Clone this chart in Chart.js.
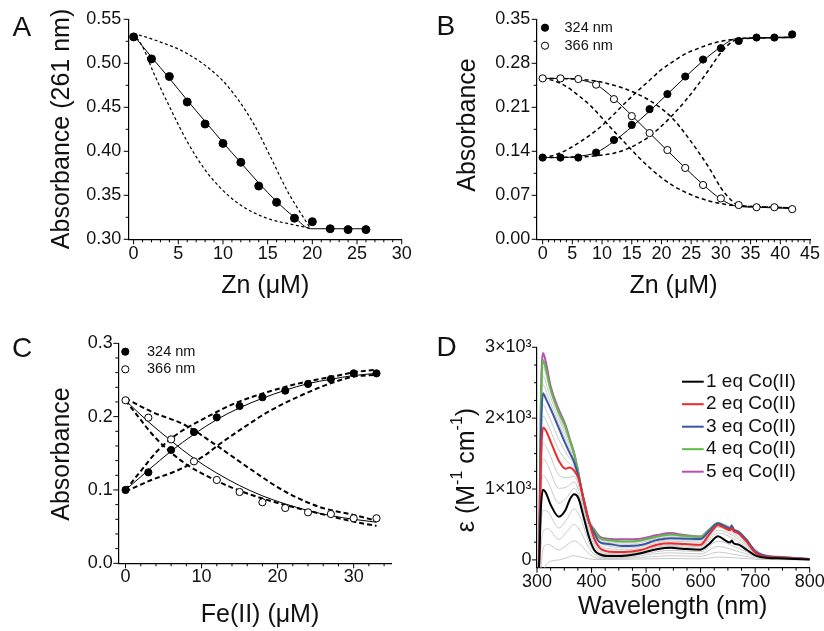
<!DOCTYPE html>
<html><head><meta charset="utf-8">
<script src="https://cdn.jsdelivr.net/npm/chart.js@4.4.0/dist/chart.umd.min.js"></script>
<style>
html,body{margin:0;padding:0;background:#fff;}
#wrap{position:relative;width:824px;height:631px;overflow:hidden;background:#fff;}
canvas{position:absolute;}
</style></head><body>
<div id="wrap">
<canvas id="cA" width="412" height="315" style="left:0;top:0"></canvas>
<canvas id="cB" width="412" height="315" style="left:412px;top:0"></canvas>
<canvas id="cC" width="412" height="316" style="left:0;top:315px"></canvas>
<canvas id="cD" width="412" height="316" style="left:412px;top:315px"></canvas>
</div>
<script>
// ---------- Panel A ----------
const A_X = [0,2,4,6,8,10,12,14,16,18,20,22,24,26];
const A_Y = [0.530,0.505,0.485,0.456,0.431,0.409,0.3875,0.3605,0.342,0.324,0.320,0.312,0.311,0.311];
const A_FIT_X = [0,2,4,6,8,10,12,14,16,18,19.8,22,24,26];
const A_FIT_Y = [0.532,0.507,0.483,0.458,0.434,0.410,0.387,0.364,0.343,0.325,0.312,0.312,0.312,0.312];
const A_UP_X = [0,2.2,6,9.7,11.6,13.5,15.4,17.2,19.8];
const A_UP_Y = [0.534,0.527,0.511,0.483,0.460,0.430,0.392,0.355,0.312];
const A_LO_X = [0,1.1,2.2,4.1,6,7.85,9.7,11.6,13.5,15.3,17.2,19.8];
const A_LO_Y = [0.534,0.517,0.490,0.449,0.411,0.381,0.3585,0.3415,0.330,0.3226,0.318,0.3125];
const A_XTICKS = [0,5,10,15,20,25,30];
const A_XLABELS = ['0','5','10','15','20','25','30'];
const A_YTICKS = [0.30,0.35,0.40,0.45,0.50,0.55];
const A_YLABELS = ['0.30','0.35','0.40','0.45','0.50','0.55'];

// ---------- Panel B ----------
const B_SERIES = ['324 nm','366 nm'];
const B_X = [0,3,6,9,12,15,18,21,24,27,30,33,36,39,42];
const B_324 = [0.130,0.130,0.130,0.138,0.158,0.182,0.207,0.231,0.259,0.286,0.304,0.3155,0.321,0.321,0.326];
const B_366 = [0.256,0.256,0.255,0.2460,0.223,0.196,0.1690,0.142,0.1135,0.0864,0.065,0.0545,0.051,0.051,0.048];
const B_FIT_X = [0,3,6,9,12,15,18,21,24,27,30,32.5,36,39,42];
const B_FIT324 = [0.130,0.130,0.132,0.138,0.156,0.179,0.204,0.231,0.258,0.284,0.306,0.319,0.320,0.321,0.322];
const B_FIT366 = [0.256,0.256,0.254,0.246,0.224,0.197,0.169,0.141,0.1135,0.087,0.064,0.053,0.051,0.050,0.049];
const B_E324_X = [0,2,4,6,8,10,12,14,16,18,20,22,24,26,28,30,32,34,42];
const B_E324_Y = [0.130,0.134,0.142,0.153,0.166,0.181,0.199,0.218,0.236,0.253,0.270,0.283,0.295,0.303,0.310,0.315,0.318,0.320,0.321];
const B_L324_X = [0,4,8,10,12,14,16,18,20,22,24,26,28,30,32,33,36,42];
const B_L324_Y = [0.130,0.1305,0.132,0.134,0.137,0.143,0.152,0.164,0.180,0.199,0.220,0.244,0.270,0.297,0.315,0.318,0.320,0.321];
const B_E366_X = [0,2,4,6,8,10,12,14,16,18,20,22,24,26,28,30,32,36,42];
const B_E366_Y = [0.256,0.252,0.243,0.229,0.213,0.193,0.172,0.152,0.132,0.114,0.098,0.085,0.075,0.067,0.061,0.057,0.054,0.052,0.050];
const B_L366_X = [0,4,8,10,12,14,16,18,20,22,24,26,28,30,32,33,36,42];
const B_L366_Y = [0.256,0.2555,0.253,0.250,0.245,0.239,0.231,0.221,0.208,0.191,0.168,0.142,0.114,0.082,0.060,0.054,0.052,0.050];
const B_XTICKS = [0,5,10,15,20,25,30,35,40,45];
const B_XLABELS = ['0','5','10','15','20','25','30','35','40','45'];
const B_YTICKS = [0,0.07,0.14,0.21,0.28,0.35];
const B_YLABELS = ['0.00','0.07','0.14','0.21','0.28','0.35'];

// ---------- Panel C ----------
const C_SERIES = ['324 nm','366 nm'];
const C_X = [0,3,6,9,12,15,18,21,24,27,30,33];
const C_324 = [0.100,0.124,0.1545,0.179,0.199,0.2145,0.2264,0.2354,0.2445,0.2513,0.2591,0.259];
const C_366 = [0.2223,0.1986,0.169,0.139,0.1136,0.0972,0.0832,0.0754,0.0695,0.0672,0.0614,0.0614];
const C_FIT324 = [0.100,0.127,0.153,0.176,0.196,0.212,0.225,0.236,0.245,0.251,0.256,0.259];
const C_FIT366 = [0.222,0.193,0.167,0.143,0.123,0.106,0.092,0.081,0.072,0.065,0.060,0.056];
const C_U324_X = [0,2.1,4.3,6.95,10,14.4,18.8,23.2,27.6,30,33];
const C_U324_Y = [0.100,0.127,0.1545,0.1773,0.1955,0.2182,0.234,0.2463,0.2554,0.2604,0.264];
const C_L324_X = [0,3.4,6.95,10.5,12.2,15.7,18.8,23.2,27.6,30,33];
const C_L324_Y = [0.098,0.1136,0.1272,0.1477,0.1613,0.1863,0.2068,0.2295,0.2477,0.2545,0.257];
const C_U366_X = [0,3.4,7.8,12.2,16.6,21,25.4,30,33];
const C_U366_Y = [0.225,0.2068,0.1886,0.159,0.1272,0.0977,0.0772,0.0659,0.058];
const C_L366_X = [0,1.67,3.4,5.6,7.8,12.2,16.6,21,25.4,30,33];
const C_L366_Y = [0.222,0.200,0.1773,0.1545,0.1364,0.1113,0.0931,0.0795,0.0682,0.0568,0.051];
const C_XTICKS = [0,10,20,30];
const C_XLABELS = ['0','10','20','30'];
const C_YTICKS = [0,0.1,0.2,0.3];
const C_YLABELS = ['0.0','0.1','0.2','0.3'];

// ---------- Panel D ----------
const D_LABELS = ['1 eq Co(II)','2 eq Co(II)','3 eq Co(II)','4 eq Co(II)','5 eq Co(II)'];
const D_WL = [300,304,307,311,316,325,340,352,360,368,376,385,395,405,415,430,460,490,520,545,570,600,615,632,645,654,657,660,670,685,700,720,750,800];
const D_EQ1 = [-600,-50,700,990,950,780,610,700,850,925,870,620,330,140,80,55,60,95,150,170,155,145,220,335,275,245,275,240,215,140,65,30,20,5];
const D_EQ2 = [-600,0,1300,1870,1830,1670,1400,1285,1305,1260,1150,880,560,300,170,120,110,140,215,235,225,215,350,490,445,420,450,410,370,250,100,45,30,10];
const D_EQ3 = [-600,100,1700,2350,2280,2130,1860,1640,1510,1380,1180,870,545,380,250,225,195,210,280,305,300,295,400,515,470,440,480,430,390,270,120,55,35,10];
const D_EQ4 = [-600,150,2100,2820,2700,2400,2080,1880,1690,1500,1220,860,545,420,310,280,260,275,330,360,340,325,420,520,475,445,485,435,395,275,120,55,38,12];
const D_EQ5 = [-600,150,2200,2920,2800,2450,2120,1910,1710,1510,1230,860,550,430,330,300,290,300,350,380,350,330,425,520,478,448,488,438,398,278,122,58,40,12];
const D_WL_G = [300,304,307,311,320,340,355,368,380,395,410,430,470,510,545,600,632,660,690,720,800];
const D_GRAY = [
  [-800,-600,-400,-200,-40,0,30,60,40,15,5,5,10,15,20,15,40,30,15,5,2],
  [-700,-450,-150,150,220,140,210,270,210,90,25,20,25,45,60,50,110,80,40,12,4],
  [-650,-300,150,400,440,290,400,500,400,170,55,30,40,80,100,85,190,140,70,20,5],
  [-620,-150,450,700,680,450,580,720,590,250,80,42,55,105,135,115,265,195,95,25,5],
  [-600,-40,850,1200,1100,800,880,1010,830,400,140,75,80,145,190,165,380,300,150,35,7],
  [-600,-25,1000,1430,1330,1010,1030,1100,890,450,170,90,90,160,205,185,420,340,170,40,8],
  [-600,-10,1150,1650,1550,1200,1160,1180,950,500,200,105,100,175,220,200,460,375,185,42,9],
  [-600,30,1450,2030,1910,1550,1390,1300,1020,555,260,160,145,220,265,250,495,415,205,50,10],
  [-600,60,1560,2190,2060,1700,1490,1340,1035,550,285,195,170,240,285,275,505,422,212,52,10],
  [-600,110,1800,2470,2310,1920,1650,1420,1060,545,325,245,220,280,325,305,517,432,222,55,11],
  [-600,125,1900,2600,2400,1990,1710,1450,1065,545,340,260,240,295,340,315,518,433,223,55,11],
  [-600,140,2000,2720,2500,2040,1760,1480,1070,545,350,270,252,305,350,320,519,434,224,55,12]
];
const D_XTICKS = [300,400,500,600,700,800];
const D_XLABELS = ['300','400','500','600','700','800'];
const D_YTICKS = [0,1000,2000,3000];
const D_YLABELS = ['0','1×10³','2×10³','3×10³'];
const D_COLORS = ['#000000','#ee2a2a','#3a55a6','#5dba45','#b94eb6'];

// ---------- helpers ----------
const FONT = "'Liberation Sans', Arial, Helvetica, sans-serif";
const TICK_SIZE = 18, TITLE_SIZE = 25;
Chart.defaults.font.family = FONT;
Chart.defaults.color = '#111';

const pts = (xs, ys) => xs.map((x, i) => ({x: x, y: ys[i]}));
function dots(xs, ys, filled, r) {
  return {data: pts(xs, ys), showLine: false, pointRadius: r, pointHoverRadius: r,
    pointBackgroundColor: filled ? '#000' : '#fff', pointBorderColor: '#000', pointBorderWidth: 1};
}
function curve(xs, ys, dash, w, color) {
  return {data: pts(xs, ys), showLine: true, pointRadius: 0, pointHoverRadius: 0,
    borderColor: color || '#000', borderWidth: w, borderDash: dash || [],
    cubicInterpolationMode: 'monotone', fill: false};
}
function scalesFor(o) {
  return {
    x: {type: 'linear', min: o.xmin, max: o.xmax,
      grid: {display: false, drawTicks: false, tickLength: 0}, border: {display: true, color: '#000', width: 1.2},
      ticks: {padding: o.xpad, maxRotation: 0, autoSkip: false, font: {size: TICK_SIZE}, color: '#111',
        callback: (v, i) => o.xlabels[i]},
      afterBuildTicks: s => { s.ticks = o.xticks.map(v => ({value: v})); },
      afterFit: s => { s.height = o.xh; s.paddingLeft = 0; s.paddingRight = 0; }},
    y: {type: 'linear', min: o.ymin, max: o.ymax,
      grid: {display: false, drawTicks: false, tickLength: 0}, border: {display: true, color: '#000', width: 1.2},
      ticks: {padding: o.ypad, autoSkip: false, font: {size: TICK_SIZE}, color: '#111',
        callback: (v, i) => o.ylabels[i]},
      afterBuildTicks: s => { s.ticks = o.yticks.map(v => ({value: v})); },
      afterFit: s => { s.width = o.yw; s.paddingTop = 0; s.paddingBottom = 0; }}
  };
}
function drawRich(ctx, segs, cx, cy, size) {
  const supSize = Math.round(size * 0.62);
  let total = 0;
  segs.forEach(s => { ctx.font = (s[1] ? supSize : size) + 'px ' + FONT; total += ctx.measureText(s[0]).width; });
  let x = cx - total / 2;
  ctx.textAlign = 'left';
  segs.forEach(s => {
    ctx.font = (s[1] ? supSize : size) + 'px ' + FONT;
    ctx.textBaseline = 'middle';
    ctx.fillText(s[0], x, s[1] ? cy - size * 0.36 : cy);
    x += ctx.measureText(s[0]).width;
  });
}
const decor = {
  id: 'decor',
  afterDraw(chart, args, o) {
    const ctx = chart.ctx, xs = chart.scales.x, ys = chart.scales.y;
    const ca = chart.chartArea;
    ctx.save();
    ctx.strokeStyle = '#000'; ctx.lineWidth = 1;
    const tickX = (v, len) => { const p = xs.getPixelForValue(v); if (p < ca.left - 0.5 || p > ca.right + 0.5) return;
      ctx.beginPath(); ctx.moveTo(p, ca.bottom); ctx.lineTo(p, ca.bottom + len); ctx.stroke(); };
    const tickY = (v, len) => { const p = ys.getPixelForValue(v); if (p < ca.top - 0.5 || p > ca.bottom + 0.5) return;
      ctx.beginPath(); ctx.moveTo(ca.left, p); ctx.lineTo(ca.left - len, p); ctx.stroke(); };
    const isMajor = (arr, v, eps) => arr.some(m => Math.abs(m - v) < eps);
    for (let k = 0; ; k++) { const v = o.xMinor[0] + k * o.xMinor[1]; if (v > xs.max + 1e-9) break;
      if (!isMajor(o.xMajor, v, o.xMinor[1] / 100)) tickX(v, 3); }
    o.xMajor.forEach(v => tickX(v, 5));
    for (let k = 0; ; k++) { const v = o.yMinor[0] + k * o.yMinor[1]; if (v > ys.max + 1e-9) break;
      if (!isMajor(o.yMajor, v, o.yMinor[1] / 100)) tickY(v, 3); }
    o.yMajor.forEach(v => tickY(v, 5));
    ctx.fillStyle = '#111';
    // x title
    ctx.font = TITLE_SIZE + 'px ' + FONT; ctx.textAlign = 'center'; ctx.textBaseline = 'middle';
    ctx.fillText(o.xTitle, o.xTitlePos[0], o.xTitlePos[1]);
    // y title
    ctx.save(); ctx.translate(o.yTitlePos[0], o.yTitlePos[1]); ctx.rotate(-Math.PI / 2);
    drawRich(ctx, o.yTitle, 0, 0, TITLE_SIZE); ctx.restore();
    // panel letter
    ctx.font = '28px ' + FONT; ctx.textAlign = 'left'; ctx.textBaseline = 'alphabetic';
    ctx.fillText(o.letter, o.letterPos[0], o.letterPos[1]);
    // legends
    if (o.dotLegend) {
      const L = o.dotLegend;
      L.items.forEach((txt, i) => {
        const y = L.y0 + i * L.dy;
        ctx.beginPath(); ctx.arc(L.cx, y, L.r, 0, Math.PI * 2);
        ctx.fillStyle = i === 0 ? '#000' : '#fff'; ctx.fill();
        ctx.strokeStyle = '#000'; ctx.lineWidth = 1; ctx.stroke();
        ctx.fillStyle = '#111'; ctx.font = L.size + 'px ' + FONT; ctx.textAlign = 'left'; ctx.textBaseline = 'middle';
        ctx.fillText(txt, L.tx, y);
      });
    }
    if (o.lineLegend) {
      const L = o.lineLegend;
      L.items.forEach((txt, i) => {
        const y = L.y0 + i * L.dy;
        ctx.strokeStyle = L.colors[i]; ctx.lineWidth = 2;
        ctx.beginPath(); ctx.moveTo(L.x0, y); ctx.lineTo(L.x1, y); ctx.stroke();
        ctx.fillStyle = '#111'; ctx.font = L.size + 'px ' + FONT; ctx.textAlign = 'left'; ctx.textBaseline = 'middle';
        ctx.fillText(txt, L.tx, y);
      });
    }
    ctx.restore();
  }
};
function makeChart(id, datasets, sc, pad, dec) {
  return new Chart(document.getElementById(id), {
    type: 'scatter',
    data: {datasets: datasets},
    options: {responsive: false, animation: false, devicePixelRatio: 1, events: [],
      layout: {padding: pad},
      scales: scalesFor(sc),
      plugins: {legend: {display: false}, tooltip: {enabled: false}, decor: dec}},
    plugins: [decor]
  });
}

// ---------- A ----------
makeChart('cA', [
  dots(A_X, A_Y, true, 4),
  curve(A_FIT_X, A_FIT_Y, [], 1),
  curve(A_UP_X, A_UP_Y, [3, 2.5], 1.2),
  curve(A_LO_X, A_LO_Y, [3, 2.5], 1.2)
], {xmin: -0.55, xmax: 30, ymin: 0.30, ymax: 0.55, xticks: A_XTICKS, xlabels: A_XLABELS,
    yticks: A_YTICKS, ylabels: A_YLABELS, xh: 315 - 239.3, yw: 128.7, xpad: 4, ypad: 7.5},
  {left: 0, top: 19.3, right: 412 - 401.7, bottom: 0},
  {xMajor: A_XTICKS, xMinor: [0, 1], yMajor: A_YTICKS, yMinor: [0.30, 0.025],
   xTitle: 'Zn (\u03bcM)', xTitlePos: [265.2, 286], yTitle: [['Absorbance (261 nm)', false]], yTitlePos: [62.5, 129],
   letter: 'A', letterPos: [12.5, 36]});

// ---------- B ----------
makeChart('cB', [
  dots(B_X, B_324, true, 3.6),
  dots(B_X, B_366, false, 3.6),
  curve(B_FIT_X, B_FIT324, [], 1),
  curve(B_FIT_X, B_FIT366, [], 1),
  curve(B_E324_X, B_E324_Y, [4, 3], 1.5),
  curve(B_L324_X, B_L324_Y, [4, 3], 1.5),
  curve(B_E366_X, B_E366_Y, [4, 3], 1.5),
  curve(B_L366_X, B_L366_Y, [4, 3], 1.5)
], {xmin: -1, xmax: 45, ymin: 0, ymax: 0.35, xticks: B_XTICKS, xlabels: B_XLABELS,
    yticks: B_YTICKS, ylabels: B_YLABELS, xh: 315 - 239.3, yw: 124.7, xpad: 4, ypad: 6.5},
  {left: 0, top: 19.3, right: 412 - 398, bottom: 0},
  {xMajor: B_XTICKS, xMinor: [0, 1], yMajor: B_YTICKS, yMinor: [0, 0.035],
   xTitle: 'Zn (\u03bcM)', xTitlePos: [261.5, 286], yTitle: [['Absorbance', false]], yTitlePos: [55.8, 125],
   letter: 'B', letterPos: [24.5, 35],
   dotLegend: {items: B_SERIES, cx: 133, y0: 27.7, dy: 18, r: 3.6, tx: 152.5, size: 14.5}});

// ---------- C ----------
makeChart('cC', [
  dots(C_X, C_324, true, 3.6),
  dots(C_X, C_366, false, 3.6),
  curve(C_X, C_FIT324, [], 1),
  curve(C_X, C_FIT366, [], 1),
  curve(C_U324_X, C_U324_Y, [5, 3], 2),
  curve(C_L324_X, C_L324_Y, [5, 3], 2),
  curve(C_U366_X, C_U366_Y, [5, 3], 2),
  curve(C_L366_X, C_L366_Y, [5, 3], 2)
], {xmin: -0.95, xmax: 35, ymin: 0, ymax: 0.3, xticks: C_XTICKS, xlabels: C_XLABELS,
    yticks: C_YTICKS, ylabels: C_YLABELS, xh: 316 - 248.3, yw: 118.3, xpad: 3, ypad: 5.5},
  {left: 0, top: 28.3, right: 412 - 391.7, bottom: 0},
  {xMajor: C_XTICKS, xMinor: [0, 2], yMajor: C_YTICKS, yMinor: [0, 0.02],
   xTitle: 'Fe(II) (\u03bcM)', xTitlePos: [260, 299.7], yTitle: [['Absorbance', false]], yTitlePos: [62.5, 139],
   letter: 'C', letterPos: [12, 41.7],
   dotLegend: {items: C_SERIES, cx: 125.3, y0: 36.7, dy: 17.6, r: 3.6, tx: 147, size: 14.5}});

// ---------- D ----------
const dSets = [];
[D_EQ1, D_EQ2, D_EQ3, D_EQ4, D_EQ5].forEach((arr, i) => dSets.push(curve(D_WL, arr, [], 2, D_COLORS[i])));
D_GRAY.forEach(arr => dSets.push(curve(D_WL_G, arr, [], 1, '#c9c9c9')));
makeChart('cD', dSets,
  {xmin: 300, xmax: 800, ymin: -110, ymax: 3000, xticks: D_XTICKS, xlabels: D_XLABELS,
    yticks: D_YTICKS, ylabels: D_YLABELS, xh: 316 - 252.7, yw: 125, xpad: 3.5, ypad: 5.5},
  {left: 0, top: 32.3, right: 412 - 397.7, bottom: 0},
  {xMajor: D_XTICKS, xMinor: [300, 25], yMajor: D_YTICKS, yMinor: [0, 250],
   xTitle: 'Wavelength (nm)', xTitlePos: [260.7, 292],
   yTitle: [['\u03b5 (M', false], ['-1', true], [' cm', false], ['-1', true], [')', false]], yTitlePos: [55, 155],
   letter: 'D', letterPos: [24.5, 40.7],
   lineLegend: {items: D_LABELS, colors: D_COLORS, x0: 270, x1: 291.7, tx: 294, y0: 66.7, dy: 22.5, size: 19}});
</script>
</body></html>
